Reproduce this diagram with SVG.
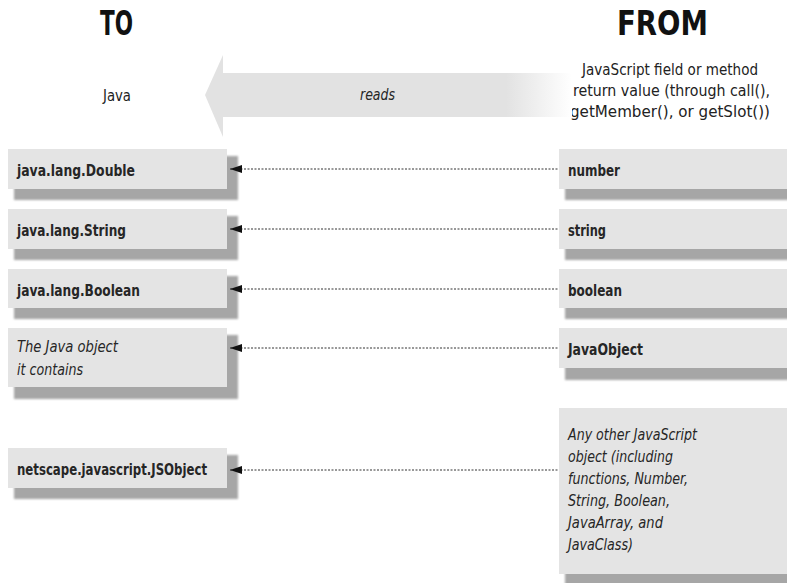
<svg xmlns="http://www.w3.org/2000/svg" width="787" height="583" viewBox="0 0 787 583">
<defs>
  <linearGradient id="fade" x1="0" y1="0" x2="1" y2="0">
    <stop offset="0" stop-color="#e2e2e2"/>
    <stop offset="0.82" stop-color="#e2e2e2"/>
    <stop offset="1" stop-color="#ffffff"/>
  </linearGradient>
  <filter id="blur" x="-10%" y="-30%" width="120%" height="160%">
    <feGaussianBlur stdDeviation="1"/>
  </filter>
  <marker id="ah" markerWidth="14" markerHeight="10" refX="1" refY="5" orient="auto" markerUnits="userSpaceOnUse">
    <path d="M1,5 L13,1 L13,9 Z" fill="#111"/>
  </marker>
</defs>
<style>
  .box { fill: #e4e4e4; }
  .shadow { fill: #a6a6a6; filter: url(#blur); }
  .lbl { font-family: "DejaVu Sans Condensed", "DejaVu Sans", sans-serif; font-weight: bold; font-size: 16px; fill: #262626; }
  .it { font-family: "DejaVu Sans Condensed", "DejaVu Sans", sans-serif; font-style: italic; font-size: 15px; fill: #262626; }
  .hdr { font-family: "DejaVu Sans Condensed", "DejaVu Sans", sans-serif; font-weight: bold; font-size: 33px; fill: #111; }
  .plain { font-family: "DejaVu Sans Condensed", "DejaVu Sans", sans-serif; font-size: 15px; fill: #222; }
  .conn { stroke: #333; stroke-width: 1; stroke-dasharray: 2 1.5; fill: none; marker-start: url(#ah); }
</style>
<rect width="787" height="583" fill="#ffffff"/>

<g id="headers">
  <text class="hdr" x="100" y="35" textLength="33" lengthAdjust="spacingAndGlyphs">TO</text>
  <text class="hdr" x="617" y="35" textLength="91" lengthAdjust="spacingAndGlyphs">FROM</text>
  <text class="plain" x="103" y="101" textLength="28" lengthAdjust="spacingAndGlyphs">Java</text>
  <text class="plain" x="582" y="75" textLength="176" lengthAdjust="spacingAndGlyphs">JavaScript field or method</text>
  <text class="plain" x="573" y="96" textLength="197" lengthAdjust="spacingAndGlyphs">return value (through call(),</text>
  <text class="plain" x="570" y="117" textLength="200" lengthAdjust="spacingAndGlyphs">getMember(), or getSlot())</text>
</g>

<g id="reads-arrow">
  <path d="M205,95 L223,55 L223,73 L572,73 L572,117 L223,117 L223,137 Z" fill="url(#fade)"/>
  <text class="it" x="360" y="100" textLength="35" lengthAdjust="spacingAndGlyphs">reads</text>
</g>

<g id="to-double">
  <rect class="shadow" x="14" y="156" width="224" height="44"/>
  <rect class="box" x="8" y="149" width="219" height="40"/>
  <text class="lbl" x="17" y="176" textLength="118" lengthAdjust="spacingAndGlyphs">java.lang.Double</text>
</g>
<g id="to-string">
  <rect class="shadow" x="14" y="216" width="224" height="44"/>
  <rect class="box" x="8" y="209" width="219" height="40"/>
  <text class="lbl" x="17" y="236" textLength="109" lengthAdjust="spacingAndGlyphs">java.lang.String</text>
</g>
<g id="to-boolean">
  <rect class="shadow" x="14" y="276" width="224" height="43"/>
  <rect class="box" x="8" y="269" width="219" height="39"/>
  <text class="lbl" x="17" y="296" textLength="123" lengthAdjust="spacingAndGlyphs">java.lang.Boolean</text>
</g>
<g id="to-object">
  <rect class="shadow" x="14" y="335" width="224" height="64"/>
  <rect class="box" x="8" y="328" width="219" height="59"/>
  <text class="it" x="17" y="352" textLength="101" lengthAdjust="spacingAndGlyphs">The Java object</text>
  <text class="it" x="17" y="375" textLength="66" lengthAdjust="spacingAndGlyphs">it contains</text>
</g>
<g id="to-jsobject">
  <rect class="shadow" x="14" y="455" width="224" height="44"/>
  <rect class="box" x="8" y="448" width="219" height="40"/>
  <text class="lbl" x="17" y="475" textLength="190" lengthAdjust="spacingAndGlyphs">netscape.javascript.JSObject</text>
</g>

<g id="from-number">
  <rect class="shadow" x="565" y="156" width="230" height="44"/>
  <rect class="box" x="559" y="149" width="230" height="40"/>
  <text class="lbl" x="568" y="176" textLength="52" lengthAdjust="spacingAndGlyphs">number</text>
</g>
<g id="from-string">
  <rect class="shadow" x="565" y="216" width="230" height="44"/>
  <rect class="box" x="559" y="209" width="230" height="40"/>
  <text class="lbl" x="568" y="236" textLength="38" lengthAdjust="spacingAndGlyphs">string</text>
</g>
<g id="from-boolean">
  <rect class="shadow" x="565" y="276" width="230" height="43"/>
  <rect class="box" x="559" y="269" width="230" height="39"/>
  <text class="lbl" x="568" y="296" textLength="54" lengthAdjust="spacingAndGlyphs">boolean</text>
</g>
<g id="from-javaobject">
  <rect class="shadow" x="565" y="335" width="230" height="45"/>
  <rect class="box" x="559" y="328" width="230" height="40"/>
  <text class="lbl" x="568" y="355" textLength="75" lengthAdjust="spacingAndGlyphs">JavaObject</text>
</g>
<g id="from-other">
  <rect class="shadow" x="565" y="415" width="230" height="170"/>
  <rect class="box" x="559" y="408" width="230" height="166"/>
  <text class="it" x="568" y="440" textLength="129" lengthAdjust="spacingAndGlyphs">Any other JavaScript</text>
  <text class="it" x="568" y="462" textLength="105" lengthAdjust="spacingAndGlyphs">object (including</text>
  <text class="it" x="568" y="484" textLength="120" lengthAdjust="spacingAndGlyphs">functions, Number,</text>
  <text class="it" x="568" y="506" textLength="102" lengthAdjust="spacingAndGlyphs">String, Boolean,</text>
  <text class="it" x="568" y="528" textLength="95" lengthAdjust="spacingAndGlyphs">JavaArray, and</text>
  <text class="it" x="568" y="550" textLength="65" lengthAdjust="spacingAndGlyphs">JavaClass)</text>
</g>

<g id="connectors">
  <line class="conn" x1="230" y1="169" x2="558" y2="169"/>
  <line class="conn" x1="230" y1="229" x2="558" y2="229"/>
  <line class="conn" x1="230" y1="289" x2="558" y2="289"/>
  <line class="conn" x1="230" y1="348" x2="558" y2="348"/>
  <line class="conn" x1="230" y1="470" x2="558" y2="470"/>
</g>
</svg>
